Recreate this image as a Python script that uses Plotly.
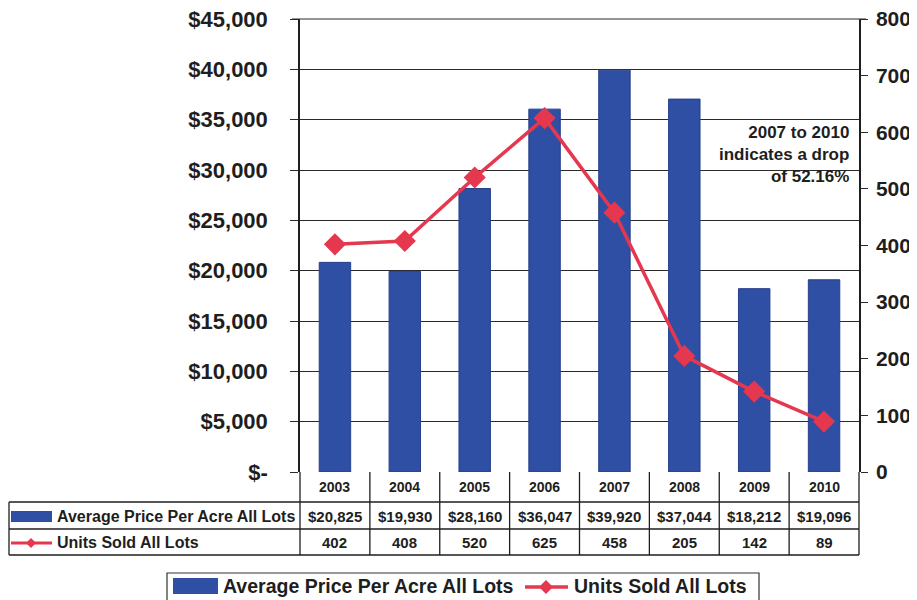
import plotly.graph_objects as go

# ---------------- data ----------------
years = ["2003", "2004", "2005", "2006", "2007", "2008", "2009", "2010"]
avg_price = [20825, 19930, 28160, 36047, 39920, 37044, 18212, 19096]
units_sold = [402, 408, 520, 625, 458, 205, 142, 89]
series_names = ["Average Price Per Acre All Lots", "Units Sold All Lots"]
left_tickvals = [0, 5000, 10000, 15000, 20000, 25000, 30000, 35000, 40000, 45000]
left_ticktext = ["$-", "$5,000", "$10,000", "$15,000", "$20,000", "$25,000",
                 "$30,000", "$35,000", "$40,000", "$45,000"]
right_tickvals = [0, 100, 200, 300, 400, 500, 600, 700, 800]
note_lines = ["2007 to 2010", "indicates a drop", "of 52.16%"]

price_labels = ["${:,}".format(v) for v in avg_price]
units_labels = [str(v) for v in units_sold]

# ---------------- style ----------------
BLUE = "#2e4fa3"
BLUE_EDGE = "#263f8c"
RED = "#e5384f"
INK = "#1e1e1e"
GRID = "#2a2a2a"
FONT = "Liberation Sans, Arial, sans-serif"

# the page body has an 8px margin; work in screen pixels and offset
OFF = 8
W, H = 917 - OFF, 600 - OFF
L, R, T, B = 300, 859, 19, 472  # plot area in screen pixels


def px(x):
    return (x - L) / (R - L)


def py(y):
    return (B - y) / (B - T)


fig = go.Figure()
fig.add_trace(go.Bar(
    x=years, y=avg_price, name=series_names[0], width=0.45,
    marker=dict(color=BLUE, line=dict(color=BLUE_EDGE, width=1)),
    yaxis="y", showlegend=False,
))
fig.add_trace(go.Scatter(
    x=years, y=units_sold, name=series_names[1], mode="lines+markers",
    line=dict(color=RED, width=3.5),
    marker=dict(symbol="diamond", size=17, color=RED),
    yaxis="y2", showlegend=False,
))

shapes = []
annotations = []
ln = dict(color=INK, width=1.3)

# top border gridline (hidden by plotly at the range edge)
shapes.append(dict(type="line", xref="paper", yref="paper", x0=px(292), x1=px(866),
                   y0=1, y1=1, line=dict(color=GRID, width=1.2)))

# ---- data table under the plot ----
n = len(years)
for i in range(n + 1):
    shapes.append(dict(type="line", xref="paper", yref="paper",
                       x0=i / n, x1=i / n, y0=py(472), y1=py(555), line=ln))
for yy in (502, 529, 555):
    shapes.append(dict(type="line", xref="paper", yref="paper",
                       x0=px(9), x1=px(859), y0=py(yy), y1=py(yy), line=ln))
shapes.append(dict(type="line", xref="paper", yref="paper",
                   x0=px(9), x1=px(9), y0=py(502), y1=py(555), line=ln))

for i, yr in enumerate(years):
    cx = (i + 0.5) / n
    annotations.append(dict(xref="paper", yref="paper", x=cx, y=py(487), text=yr,
                            xanchor="center", yanchor="middle",
                            showarrow=False, font=dict(family=FONT, size=14, color=INK, weight="bold")))
    annotations.append(dict(xref="paper", yref="paper", x=cx, y=py(516), text=price_labels[i],
                            xanchor="center", yanchor="middle",
                            showarrow=False, font=dict(family=FONT, size=15, color=INK, weight="bold")))
    annotations.append(dict(xref="paper", yref="paper", x=cx, y=py(542), text=units_labels[i],
                            xanchor="center", yanchor="middle",
                            showarrow=False, font=dict(family=FONT, size=15, color=INK, weight="bold")))

# table legend keys
shapes.append(dict(type="rect", xref="paper", yref="paper", x0=px(11), x1=px(52),
                   y0=py(511), y1=py(522), fillcolor=BLUE, line=dict(width=0)))
shapes.append(dict(type="line", xref="paper", yref="paper", x0=px(11), x1=px(52),
                   y0=py(543), y1=py(543), line=dict(color=RED, width=3)))


def diamond(cx, cy, r):
    return dict(type="path", xref="paper", yref="paper",
                path="M {} {} L {} {} L {} {} L {} {} Z".format(
                    px(cx - r), py(cy), px(cx), py(cy - r), px(cx + r), py(cy), px(cx), py(cy + r)),
                fillcolor=RED, line=dict(width=0))


shapes.append(diamond(31, 543, 5))
annotations.append(dict(xref="paper", yref="paper", x=px(55), y=py(516), xanchor="left",
                        yanchor="middle", text=series_names[0], showarrow=False,
                        font=dict(family=FONT, size=16, color=INK, weight="bold")))
annotations.append(dict(xref="paper", yref="paper", x=px(55), y=py(542), xanchor="left",
                        yanchor="middle", text=series_names[1], showarrow=False,
                        font=dict(family=FONT, size=16, color=INK, weight="bold")))

# ---- bottom legend ----
shapes.append(dict(type="rect", xref="paper", yref="paper", x0=px(167), x1=px(759),
                   y0=py(573), y1=py(604), line=dict(color="#333", width=1.2)))
shapes.append(dict(type="rect", xref="paper", yref="paper", x0=px(173), x1=px(218),
                   y0=py(578), y1=py(594), fillcolor=BLUE, line=dict(width=0)))
shapes.append(dict(type="line", xref="paper", yref="paper", x0=px(525), x1=px(568),
                   y0=py(587), y1=py(587), line=dict(color=RED, width=3.5)))
shapes.append(diamond(546, 587, 7))
annotations.append(dict(xref="paper", yref="paper", x=px(221), y=py(586), xanchor="left",
                        yanchor="middle", text=series_names[0], showarrow=False,
                        font=dict(family=FONT, size=19.5, color=INK, weight="bold")))
annotations.append(dict(xref="paper", yref="paper", x=px(572), y=py(586), xanchor="left",
                        yanchor="middle", text=series_names[1], showarrow=False,
                        font=dict(family=FONT, size=19.5, color=INK, weight="bold")))

# ---- note ----
annotations.append(dict(xref="paper", yref="paper", x=px(851), y=py(121), xanchor="right",
                        yanchor="top", align="right", text="<br>".join(note_lines),
                        showarrow=False,
                        font=dict(family=FONT, size=17, color=INK, weight="bold")))

fig.update_layout(
    template="none",
    width=W, height=H,
    margin=dict(l=L - OFF, r=W - (R - OFF), t=T - OFF, b=H - (B - OFF), pad=0, autoexpand=False),
    paper_bgcolor="white", plot_bgcolor="white",
    font=dict(family=FONT, color=INK),
    xaxis=dict(type="category", range=[-0.5, n - 0.5], showticklabels=False, automargin=False,
               showgrid=False, zeroline=False, showline=False, ticks=""),
    yaxis=dict(range=[0, 45000], tickvals=left_tickvals, ticktext=left_ticktext, automargin=False,
               showgrid=True, gridcolor=GRID, gridwidth=1, zeroline=False,
               showline=True, linecolor=INK, linewidth=1.5, ticklabeloverflow="allow",
               ticks="outside", ticklen=8, tickcolor=GRID, ticklabelstandoff=18,
               tickfont=dict(family=FONT, size=22, color=INK, weight="bold")),
    yaxis2=dict(range=[0, 800], tickvals=right_tickvals, overlaying="y", side="right",
                automargin=False, ticklabeloverflow="allow",
                showgrid=False, zeroline=False, showline=True, linecolor=INK, linewidth=1.5,
                ticks="outside", ticklen=7, tickcolor=GRID, ticklabelstandoff=4,
                tickfont=dict(family=FONT, size=21, color=INK, weight="bold")),
    shapes=shapes, annotations=annotations,
    showlegend=False,
)

fig.write_html("out.html")
